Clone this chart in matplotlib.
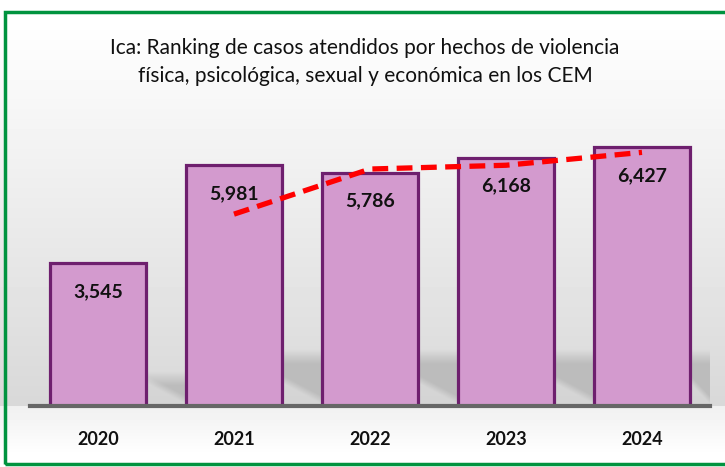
import numpy as np
import matplotlib.pyplot as plt
from matplotlib.patches import Rectangle

years = ['2020', '2021', '2022', '2023', '2024']
casos = [3545, 5981, 5786, 6168, 6427]
# trend line (2-period moving average)
trend_years = ['2021', '2022', '2023', '2024']
trend_vals = [4763, 5883, 5977, 6297]

title = ('Ica: Ranking de casos atendidos por hechos de violencia\n'
         'física, psicológica, sexual y económica en los CEM')

plt.rcParams['font.family'] = ['Lato', 'DejaVu Sans']

fig = plt.figure(figsize=(7.25, 4.67), dpi=100)
W, H = 725, 467

# background gradient over the whole figure
bg = fig.add_axes([0, 0, 1, 1], zorder=0)
bg.set_axis_off()
py = np.linspace(0, H, H)
col = np.ones_like(py)
top = py < 406
col[top] = 1.0 - 0.15 * np.clip((py[top] - 20) / 380, 0, 1)
col[~top] = 0.94 + 0.06 * np.clip((py[~top] - 406) / 50, 0, 1)
img = np.repeat(col[:, None], 2, axis=1)
bg.imshow(img, cmap='gray', vmin=0, vmax=1, aspect='auto',
          extent=[0, 1, 0, 1], origin='upper')
bg.set_xlim(0, 1)
bg.set_ylim(0, 1)

# main axes
ax = fig.add_axes([30 / W, 1 - 406 / H, 680 / W, 346 / H], zorder=1)
ax.patch.set_alpha(0)
x = np.arange(len(years))
bw = 0.71
ymax = 8590
px_per_unit = 346 / ymax

# soft floor shadows in the gaps right of each bar
for i in range(len(years)):
    x0 = i + bw / 2
    x1 = i + 1 - bw / 2 if i < len(years) - 1 else 4.5
    top_px = 372 if i == 0 else 350
    top_d = (406 - top_px) / px_per_unit
    ny, nx = 60, 20
    yy = np.linspace(top_px, 406, ny)[:, None]
    xf = np.linspace(0, 1, nx)[None, :]
    a = np.clip((yy - top_px) / 14, 0, 1)
    light = np.clip((yy - (376 + 20 * xf)) / 8, 0, 1)
    a = a * (1 - 0.85 * light)
    rgba = np.zeros((ny, nx, 4))
    rgba[..., :3] = 0.70
    rgba[..., 3] = 0.75 * a
    ax.imshow(rgba, extent=[x0, x1, 0, top_d], origin='upper',
              aspect='auto', zorder=1, interpolation='bilinear')

ax.bar(x, casos, width=bw, color='#D39ACE', edgecolor='#6E1F6E',
       linewidth=2.3, zorder=2)
for xi, v in zip(x, casos):
    ax.text(xi, v - 700, f'{v:,}', ha='center', va='center',
            fontsize=14, fontweight='bold', color='#111111', zorder=4)

tx = [years.index(y) for y in trend_years]
ax.plot(tx, trend_vals, color='#FF0000', linewidth=3.8,
        linestyle=(0, (3, 1.6)), zorder=3)

ax.set_xlim(-0.5, 4.5)
ax.set_ylim(0, ymax)
ax.set_xticks(x)
ax.set_xticklabels(years, fontsize=13, fontweight='bold', color='#111111')
ax.tick_params(axis='x', length=0, pad=18)
ax.set_yticks([])
for s in ['top', 'right', 'left']:
    ax.spines[s].set_visible(False)
ax.spines['bottom'].set_color('#666666')
ax.spines['bottom'].set_linewidth(3)
ax.spines['bottom'].set_zorder(5)

fig.text(365 / W, 1 - 62 / H, title, ha='center', va='center',
         fontsize=15, linespacing=1.45, color='#111111')

# green frame
fig.patches.append(Rectangle((5 / W, 3 / H), 730 / W, 452 / H,
                             transform=fig.transFigure, fill=False,
                             edgecolor='#00933F', linewidth=2.5, zorder=5))

fig.savefig('out.png', dpi=100)
